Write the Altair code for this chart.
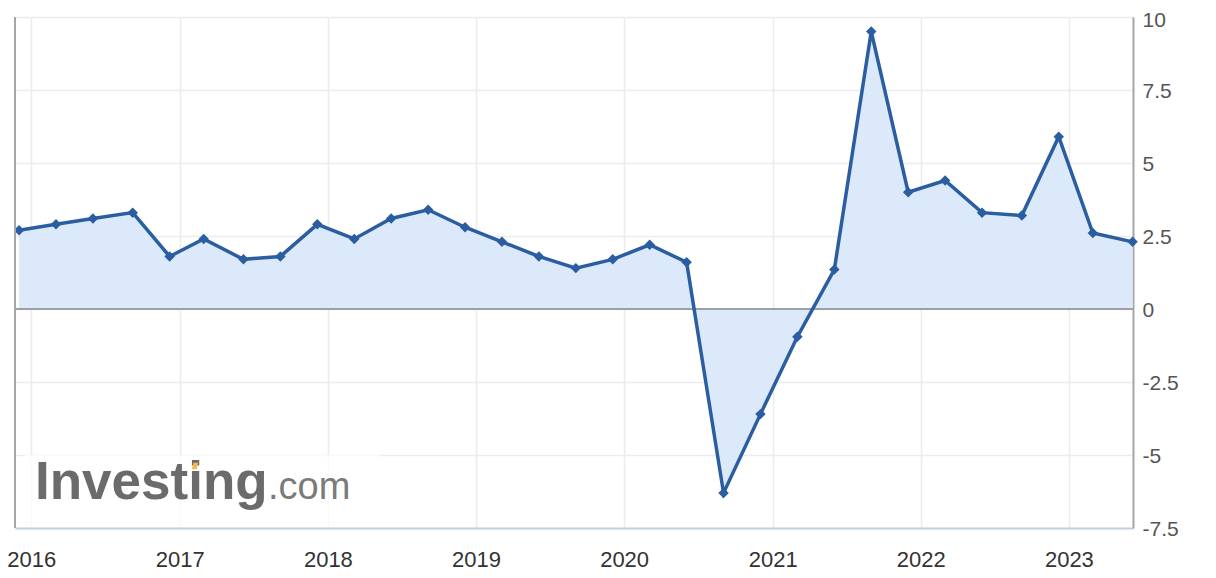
import altair as alt
import pandas as pd

# ---- data ----
dates = [
    "2015-12-02", "2016-03-02", "2016-06-01", "2016-09-07", "2016-12-07",
    "2017-03-01", "2017-06-07", "2017-09-06", "2017-12-06", "2018-03-07",
    "2018-06-06", "2018-09-05", "2018-12-05", "2019-03-06", "2019-06-05",
    "2019-09-04", "2019-12-04", "2020-03-04", "2020-06-03", "2020-09-02",
    "2020-12-02", "2021-03-03", "2021-06-02", "2021-09-01", "2021-12-01",
    "2022-03-02", "2022-06-01", "2022-09-07", "2022-12-07", "2023-03-01",
    "2023-06-07",
]
values = [
    2.7, 2.9, 3.1, 3.3, 1.8,
    2.4, 1.7, 1.8, 2.9, 2.4,
    3.1, 3.4, 2.8, 2.3, 1.8,
    1.4, 1.7, 2.2, 1.6, -6.3,
    -3.6, -0.95, 1.35, 9.5, 4.0,
    4.4, 3.3, 3.2, 5.9, 2.6,
    2.3,
]
year_ticks = [2016, 2017, 2018, 2019, 2020, 2021, 2022, 2023]
y_ticks = [-7.5, -5, -2.5, 0, 2.5, 5, 7.5, 10]
zero_line = [0]

df = pd.DataFrame({"date": dates, "value": values})

W, H = 1118, 511
LINE = "#2b5da1"
FILL = "#dce9fa"
FONT = "Liberation Sans"

x_enc = alt.X(
    "date:T",
    title=None,
    scale=alt.Scale(
        type="utc",
        domain=[
            alt.DateTime(year=2015, month=11, date=22, utc=True),
            alt.DateTime(year=2023, month=6, date=8, utc=True),
        ],
    ),
    axis=alt.Axis(
        values=[alt.DateTime(year=y, month=1, date=1, utc=True) for y in year_ticks],
        format="%Y",
        formatType="utc",
        grid=True,
        gridColor="#ececec",
        gridWidth=1.5,
        domainColor="#c4d0e0",
        domainWidth=2,
        ticks=False,
        labelFontSize=22,
        labelColor="#333333",
        labelFont=FONT,
        labelPadding=21,
        labelFlush=False,
    ),
)
y_scale = alt.Scale(domain=[-7.5, 10], nice=False, zero=False)
y_enc = alt.Y(
    "value:Q",
    title=None,
    scale=y_scale,
    axis=alt.Axis(
        orient="right",
        values=y_ticks,
        labelExpr="toString(datum.value)",
        grid=True,
        gridColor="#ececec",
        gridWidth=1.5,
        domainColor="#a6a6a6",
        domainWidth=2,
        ticks=False,
        labelFontSize=21,
        labelColor="#555555",
        labelFont=FONT,
        labelPadding=9,
        labelOffset={"condition": {"test": "datum.value == 10", "value": 3}, "value": 1},
        labelAlign="left",
        labelBaseline="middle",
    ),
)

base = alt.Chart(df)

area = base.mark_area(color=FILL, opacity=1).encode(x=x_enc, y=y_enc)

zero = alt.Chart(pd.DataFrame({"value": zero_line})).mark_rule(
    color="#a0a0a0", strokeWidth=2
).encode(y="value:Q")

line = base.mark_line(color=LINE, strokeWidth=3.5).encode(x="date:T", y="value:Q")
points = base.mark_point(
    shape="diamond", filled=True, color=LINE, size=110, opacity=1
).encode(x="date:T", y="value:Q")

left_border = alt.Chart(pd.DataFrame({"z": zero_line})).mark_rule(
    color="#a6a6a6", strokeWidth=2
).encode(x=alt.value(0), y=alt.value(0), y2=alt.value(H))

# Investing.com watermark
wm_bg = alt.Chart(pd.DataFrame({"z": zero_line})).mark_rect(
    color="white", opacity=0.75
).encode(x=alt.value(10), x2=alt.value(365), y=alt.value(438), y2=alt.value(510))
wm_text = alt.Chart(pd.DataFrame({"t": ["Investing"]})).mark_text(
    align="left", baseline="alphabetic", fontSize=53, fontWeight="bold",
    font=FONT, color="#6b6b6b",
).encode(text="t:N", x=alt.value(20), y=alt.value(482))
wm_com = alt.Chart(pd.DataFrame({"t": [".com"]})).mark_text(
    align="left", baseline="alphabetic", fontSize=38, font=FONT, color="#7a7a7a",
).encode(text="t:N", x=alt.value(253), y=alt.value(482))
wm_dot = alt.Chart(pd.DataFrame({"z": zero_line})).mark_point(
    shape="M-0.5,-1 L1,-1 L0.5,1 L-1,1 Z", filled=True, color="#f2b84b",
    size=40, opacity=1,
).encode(x=alt.value(180), y=alt.value(449))

chart = (
    alt.layer(area, zero, line, points, left_border, wm_bg, wm_text, wm_com, wm_dot)
    .properties(
        width=W,
        height=H,
        autosize=alt.AutoSizeParams(type="none"),
        padding={"left": 7, "top": 9, "right": 75, "bottom": 42},
        background="white",
    )
    .configure_view(stroke=None)
)

chart.save("out.html", embed_options={"renderer": "svg", "actions": False})
